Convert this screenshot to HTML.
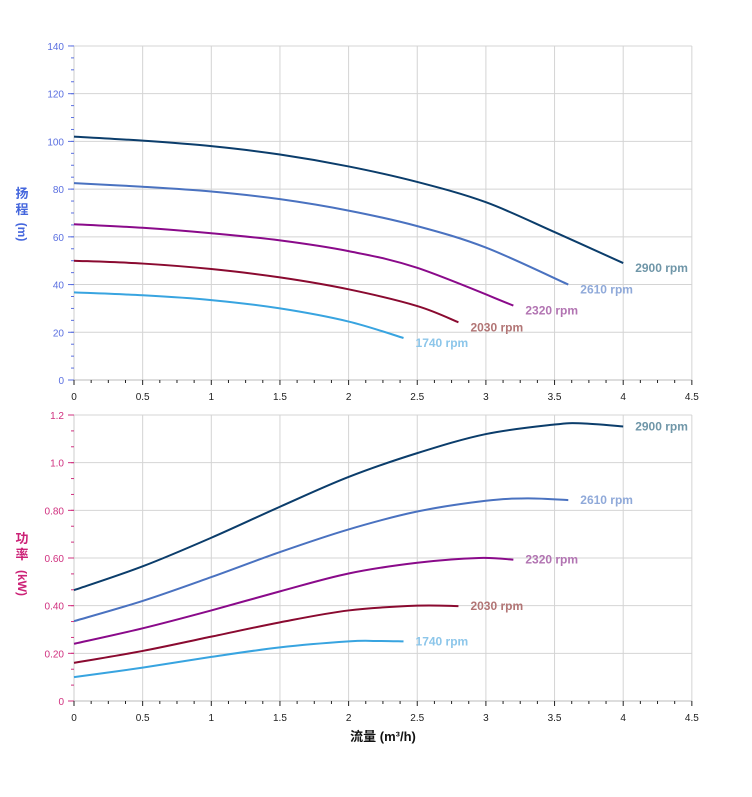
<!DOCTYPE html>
<html><head><meta charset="utf-8"><style>
body{margin:0;background:#fff;}
svg{display:block;font-family:"Liberation Sans","Noto Sans CJK SC",sans-serif;}
</style></head><body>
<svg id="s" width="752" height="797" xmlns="http://www.w3.org/2000/svg"></svg>
<script>
const s=document.getElementById('s');let h='';
const X=v=>74+v*137.3;
const YT=v=>380-v*2.386, YB=v=>701-v*238.33;
function grid(y0,y1,Y,max,step,minor,col,fmt){
 for(let v=0;v<=4.5001;v+=0.5)h+=`<line x1="${X(v)}" x2="${X(v)}" y1="${y0}" y2="${y1}" stroke="#d4d4d4"/>`;
 for(let v=0;v<=max+1e-6;v+=step)h+=`<line x1="74" x2="${X(4.5)}" y1="${Y(v)}" y2="${Y(v)}" stroke="#d4d4d4"/>`;
 h+=`<line x1="74" x2="74" y1="${y0}" y2="${y1}" stroke="#ccc"/>`;
 h+=`<line x1="74" x2="${X(4.5)}" y1="${y1}" y2="${y1}" stroke="#bbb"/>`;
 for(let v=0;v<=max+1e-6;v+=minor){h+=`<line x1="71" x2="74" y1="${Y(v)}" y2="${Y(v)}" stroke="${col}"/>`;}
 for(let v=0;v<=max+1e-6;v+=step){h+=`<line x1="68" x2="74" y1="${Y(v)}" y2="${Y(v)}" stroke="${col}"/><text x="64" y="${Y(v)+4}" font-size="10" fill="${col}" text-anchor="end">${fmt(v)}</text>`;}
 for(let v=0;v<=4.5001;v+=0.125){const M=Math.abs(v*2-Math.round(v*2))<1e-6;h+=`<line x1="${X(v)}" x2="${X(v)}" y1="${y1}" y2="${y1+(M?5:3)}" stroke="#222"/>`;}
 for(let v=0;v<=4.5001;v+=0.5)h+=`<text x="${X(v)}" y="${y1+20}" font-size="10" fill="#222" text-anchor="middle">${+v.toFixed(1)}</text>`;
}
grid(46,380,YT,140,20,5,'#5a6fe0',v=>v);
grid(415,701,YB,1.2,0.2,0.2/3,'#d0307f',v=>v==0?'0':(v>0.9?v.toFixed(1):v.toFixed(2)));
function curve(pts,Y,c){const P=pts.map(p=>[X(p[0]),Y(p[1])]);let d=`M${P[0]}`;
 for(let i=0;i<P.length-1;i++){const p0=P[i-1]||P[i],p1=P[i],p2=P[i+1],p3=P[i+2]||p2;
 d+=` C${p1[0]+(p2[0]-p0[0])/6},${p1[1]+(p2[1]-p0[1])/6} ${p2[0]-(p3[0]-p1[0])/6},${p2[1]-(p3[1]-p1[1])/6} ${p2[0]},${p2[1]}`;}
 h+=`<path d="${d}" fill="none" stroke="${c}" stroke-width="2"/>`;}
const C=['#0b3d6b','#4a72c0','#8a0a8a','#8a0a30','#38a4e0'],L=['#6f96a8','#8fa9d9','#b274b2','#b27575','#8cc6ea'];
const H=[[[0,102],[0.5,100.3],[1,98],[1.5,94.5],[2,89.5],[2.5,83],[3,74.5],[3.5,62],[4,49]],
[[0,82.5],[0.5,81],[1,79],[1.5,75.8],[2,71],[2.5,64.5],[3,55.5],[3.6,40]],
[[0,65.3],[0.5,63.8],[1,61.5],[1.5,58.5],[2,54],[2.5,47],[3.2,31.2]],
[[0,50],[0.5,48.8],[1,46.5],[1.5,43],[2,38],[2.5,31],[2.8,24.2]],
[[0,36.7],[0.5,35.5],[1,33.5],[1.5,30],[2,24.5],[2.4,17.6]]];
const W=[[[0,0.465],[0.5,0.565],[1,0.685],[1.5,0.815],[2,0.94],[2.5,1.04],[3,1.12],[3.5,1.16],[3.7,1.165],[4,1.152]],
[[0,0.335],[0.5,0.42],[1,0.52],[1.5,0.625],[2,0.72],[2.5,0.795],[3,0.84],[3.3,0.85],[3.6,0.843]],
[[0,0.24],[0.5,0.305],[1,0.38],[1.5,0.46],[2,0.535],[2.5,0.58],[2.95,0.6],[3.2,0.593]],
[[0,0.16],[0.5,0.21],[1,0.27],[1.5,0.33],[2,0.38],[2.5,0.4],[2.8,0.398]],
[[0,0.1],[0.5,0.14],[1,0.185],[1.5,0.225],[2,0.25],[2.2,0.252],[2.4,0.25]]];
const R=['2900','2610','2320','2030','1740'];
for(let i=0;i<5;i++){curve(H[i],YT,C[i]);curve(W[i],YB,C[i]);
 const a=H[i][H[i].length-1],b=W[i][W[i].length-1];
 h+=`<text x="${X(a[0])+12}" y="${YT(a[1])+9}" font-size="12" font-weight="bold" fill="${L[i]}">${R[i]} rpm</text>`;
 h+=`<text x="${X(b[0])+12}" y="${YB(b[1])+4}" font-size="12" font-weight="bold" fill="${L[i]}">${R[i]} rpm</text>`;}
h+=`<text x="22" y="198" font-size="13" font-weight="bold" fill="#4466dd" text-anchor="middle">扬</text><text x="22" y="214" font-size="13" font-weight="bold" fill="#4466dd" text-anchor="middle">程</text><text transform="translate(18,232) rotate(90)" font-size="12" font-weight="bold" fill="#4466dd" text-anchor="middle">(m)</text>`;
h+=`<text x="22" y="543" font-size="13" font-weight="bold" fill="#cc2277" text-anchor="middle">功</text><text x="22" y="559" font-size="13" font-weight="bold" fill="#cc2277" text-anchor="middle">率</text><text transform="translate(18,583) rotate(90)" font-size="12" font-weight="bold" fill="#cc2277" text-anchor="middle">(kW)</text>`;
h+=`<text x="383" y="741" font-size="13" font-weight="bold" fill="#111" text-anchor="middle">流量 (m³/h)</text>`;
s.innerHTML=h;
</script>
</body></html>
